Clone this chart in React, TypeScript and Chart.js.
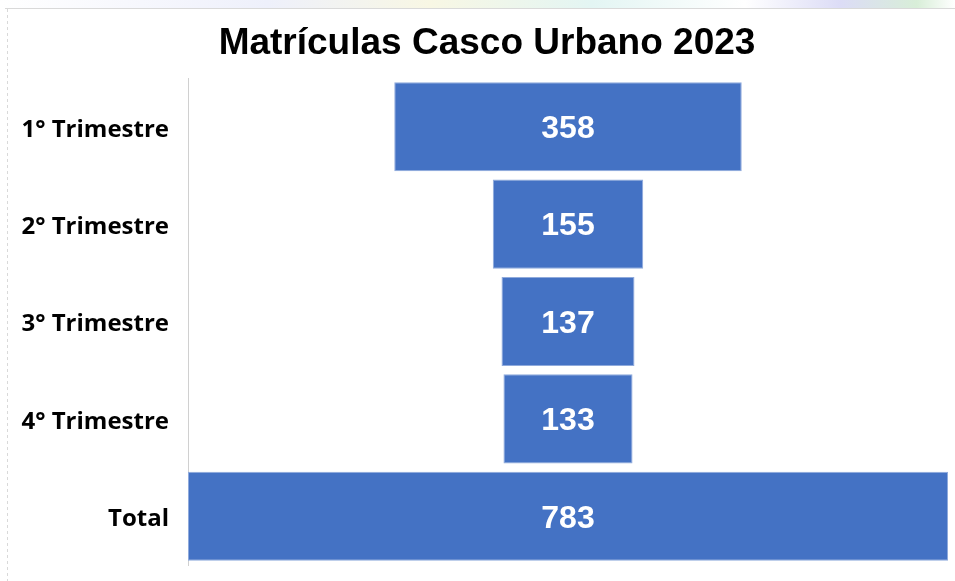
import React, { useEffect, useRef } from "react";
import { Chart, registerables } from "chart.js";

Chart.register(...registerables);

const TITLE = "Matrículas Casco Urbano 2023";
const categories = ["1° Trimestre", "2° Trimestre", "3° Trimestre", "4° Trimestre", "Total"];
const values = [358, 155, 137, 133, 783];
const axisMax = 783;

const framePlugin = {
  id: "frame",
  beforeDraw(chart: any) {
    const ctx = chart.ctx;
    const w = chart.width;
    const h = chart.height;
    ctx.save();
    const g = ctx.createLinearGradient(0, 0, w, 0);
    g.addColorStop(0, "#ffffff");
    g.addColorStop(0.28, "#eef0fb");
    g.addColorStop(0.45, "#f8f7e4");
    g.addColorStop(0.62, "#e3f5f3");
    g.addColorStop(0.78, "#ffffff");
    g.addColorStop(0.88, "#dcdcf6");
    g.addColorStop(0.96, "#d8eed8");
    g.addColorStop(1, "#ffffff");
    ctx.fillStyle = g;
    ctx.fillRect(0, 0, w, 8);
    ctx.fillStyle = "#ffffff";
    ctx.fillRect(0, 8, w, h - 8);
    ctx.strokeStyle = "#d9d9d9";
    ctx.lineWidth = 1;
    ctx.beginPath();
    ctx.moveTo(5, 8.5);
    ctx.lineTo(w, 8.5);
    ctx.stroke();
    ctx.setLineDash([3, 3]);
    ctx.beginPath();
    ctx.moveTo(7.5, 9);
    ctx.lineTo(7.5, h);
    ctx.stroke();
    ctx.restore();
  },
  afterDraw(chart: any) {
    const ctx = chart.ctx;
    ctx.save();
    ctx.fillStyle = "#000000";
    ctx.font = "bold 37px 'Liberation Sans', Arial, sans-serif";
    ctx.textAlign = "center";
    ctx.textBaseline = "middle";
    ctx.fillText(TITLE, 487, 44);
    ctx.restore();
  },
};

const valueLabelPlugin = {
  id: "valueLabels",
  afterDatasetsDraw(chart: any) {
    const ctx = chart.ctx;
    const meta = chart.getDatasetMeta(0);
    ctx.save();
    ctx.fillStyle = "#ffffff";
    ctx.font = "bold 32px 'Liberation Sans', Arial, sans-serif";
    ctx.textAlign = "center";
    ctx.textBaseline = "middle";
    meta.data.forEach((el: any, i: number) => {
      const cx = (el.x + el.base) / 2;
      ctx.fillText(String(values[i]), cx, el.y + 2.5);
    });
    ctx.restore();
  },
};

export default function App() {
  const ref = useRef<HTMLCanvasElement>(null);
  useEffect(() => {
    if (!ref.current) return;
    const data = values.map((v) => [(axisMax - v) / 2, (axisMax + v) / 2]);
    const chart = new Chart(ref.current, {
      type: "bar",
      data: {
        labels: categories,
        datasets: [
          {
            data: data as any,
            backgroundColor: "#4472C4",
            borderColor: "#8FAADC",
            borderWidth: 1,
            borderSkipped: false,
            barPercentage: 0.915,
            categoryPercentage: 1,
          },
        ],
      },
      options: {
        indexAxis: "y",
        animation: false,
        responsive: false,
        maintainAspectRatio: false,
        layout: { padding: { top: 78, bottom: 16, left: 0, right: 7 } },
        plugins: {
          legend: { display: false },
          title: { display: false },
          tooltip: { enabled: false },
        },
        scales: {
          x: { display: false, min: 0, max: axisMax },
          y: {
            type: "category",
            grid: { display: false, drawTicks: false },
            border: { display: true, color: "#d0d0d0", dash: [2, 2] },
            ticks: {
              color: "#000000",
              padding: 19,
              labelOffset: 3,
              font: { family: "'Open Sans', Lato, sans-serif", weight: "bold", size: 24 },
            },
            afterFit(scale: any) {
              scale.width = 188;
              scale.paddingTop = 0;
              scale.paddingBottom = 0;
            },
          },
        },
      },
      plugins: [framePlugin, valueLabelPlugin],
    });
    return () => chart.destroy();
  }, []);
  return (
    <div style={{ position: "fixed", left: 0, top: 0, width: 955, height: 581, background: "#fff" }}>
      <canvas ref={ref} width={955} height={581} style={{ display: "block" }} />
    </div>
  );
}
